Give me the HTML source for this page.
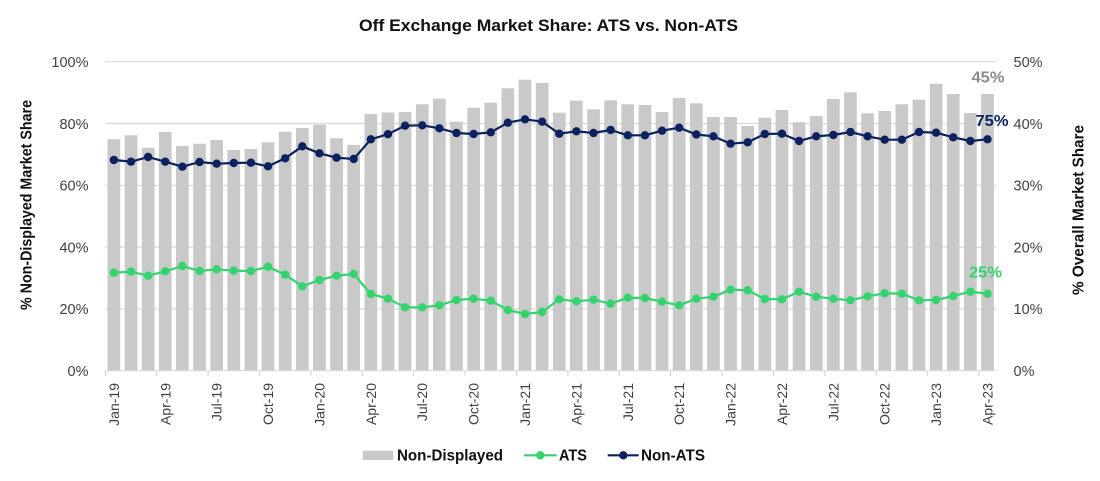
<!DOCTYPE html>
<html>
<head>
<meta charset="utf-8">
<style>
html,body{margin:0;padding:0;background:#fff;}
svg{display:block;}
text{font-family:"Liberation Sans",sans-serif;}
</style>
</head>
<body>
<svg width="1100" height="481" viewBox="0 0 1100 481" xmlns="http://www.w3.org/2000/svg">
<rect width="1100" height="481" fill="#fff"/>
<!-- title -->
<text x="359" y="31" font-size="17" font-weight="bold" fill="#111" textLength="379" lengthAdjust="spacingAndGlyphs">Off Exchange Market Share: ATS vs. Non-ATS</text>

<!-- gridlines -->
<g stroke="#d9d9d9" stroke-width="1.2">
<line x1="105.3" y1="61.7" x2="996.5" y2="61.7"/>
<line x1="105.3" y1="123.5" x2="996.5" y2="123.5"/>
<line x1="105.3" y1="185.3" x2="996.5" y2="185.3"/>
<line x1="105.3" y1="247.1" x2="996.5" y2="247.1"/>
<line x1="105.3" y1="308.9" x2="996.5" y2="308.9"/>
</g>

<!-- bars -->
<g fill="#c9c9c9">
<rect x="107.5" y="139.3" width="12.7" height="231.4"/>
<rect x="124.7" y="135.3" width="12.7" height="235.4"/>
<rect x="141.8" y="147.7" width="12.7" height="223.0"/>
<rect x="158.9" y="132.0" width="12.7" height="238.7"/>
<rect x="176.0" y="146.0" width="12.7" height="224.7"/>
<rect x="193.2" y="143.7" width="12.7" height="227.0"/>
<rect x="210.3" y="140.0" width="12.7" height="230.7"/>
<rect x="227.4" y="150.0" width="12.7" height="220.7"/>
<rect x="244.6" y="149.0" width="12.7" height="221.7"/>
<rect x="261.7" y="142.3" width="12.7" height="228.4"/>
<rect x="278.8" y="131.7" width="12.7" height="239.0"/>
<rect x="296.0" y="128.0" width="12.7" height="242.7"/>
<rect x="313.1" y="124.7" width="12.7" height="246.0"/>
<rect x="330.2" y="138.3" width="12.7" height="232.4"/>
<rect x="347.3" y="145.0" width="12.7" height="225.7"/>
<rect x="364.5" y="114.0" width="12.7" height="256.7"/>
<rect x="381.6" y="112.5" width="12.7" height="258.2"/>
<rect x="398.7" y="112.0" width="12.7" height="258.7"/>
<rect x="415.9" y="104.3" width="12.7" height="266.4"/>
<rect x="433.0" y="98.7" width="12.7" height="272.0"/>
<rect x="450.1" y="121.7" width="12.7" height="249.0"/>
<rect x="467.3" y="107.7" width="12.7" height="263.0"/>
<rect x="484.4" y="102.7" width="12.7" height="268.0"/>
<rect x="501.5" y="88.3" width="12.7" height="282.4"/>
<rect x="518.6" y="79.7" width="12.7" height="291.0"/>
<rect x="535.8" y="83.0" width="12.7" height="287.7"/>
<rect x="552.9" y="112.7" width="12.7" height="258.0"/>
<rect x="570.0" y="100.7" width="12.7" height="270.0"/>
<rect x="587.2" y="109.3" width="12.7" height="261.4"/>
<rect x="604.3" y="100.3" width="12.7" height="270.4"/>
<rect x="621.4" y="104.3" width="12.7" height="266.4"/>
<rect x="638.6" y="105.0" width="12.7" height="265.7"/>
<rect x="655.7" y="112.0" width="12.7" height="258.7"/>
<rect x="672.8" y="98.0" width="12.7" height="272.7"/>
<rect x="689.9" y="103.3" width="12.7" height="267.4"/>
<rect x="707.1" y="117.0" width="12.7" height="253.7"/>
<rect x="724.2" y="117.0" width="12.7" height="253.7"/>
<rect x="741.3" y="126.0" width="12.7" height="244.7"/>
<rect x="758.5" y="117.7" width="12.7" height="253.0"/>
<rect x="775.6" y="110.0" width="12.7" height="260.7"/>
<rect x="792.7" y="122.3" width="12.7" height="248.4"/>
<rect x="809.9" y="116.0" width="12.7" height="254.7"/>
<rect x="827.0" y="99.0" width="12.7" height="271.7"/>
<rect x="844.1" y="92.3" width="12.7" height="278.4"/>
<rect x="861.2" y="113.3" width="12.7" height="257.4"/>
<rect x="878.4" y="111.0" width="12.7" height="259.7"/>
<rect x="895.5" y="104.3" width="12.7" height="266.4"/>
<rect x="912.6" y="99.7" width="12.7" height="271.0"/>
<rect x="929.8" y="83.7" width="12.7" height="287.0"/>
<rect x="946.9" y="94.0" width="12.7" height="276.7"/>
<rect x="964.0" y="113.0" width="12.7" height="257.7"/>
<rect x="981.2" y="94.0" width="12.7" height="276.7"/>
</g>

<!-- x axis line and ticks -->
<g stroke="#d9d9d9" stroke-width="1.2">
<line x1="105.3" y1="370.7" x2="996.5" y2="370.7"/>
<line x1="105.3" y1="370.7" x2="105.3" y2="376"/>
<line x1="156.7" y1="370.7" x2="156.7" y2="376"/>
<line x1="208.1" y1="370.7" x2="208.1" y2="376"/>
<line x1="259.5" y1="370.7" x2="259.5" y2="376"/>
<line x1="310.9" y1="370.7" x2="310.9" y2="376"/>
<line x1="362.3" y1="370.7" x2="362.3" y2="376"/>
<line x1="413.6" y1="370.7" x2="413.6" y2="376"/>
<line x1="465.0" y1="370.7" x2="465.0" y2="376"/>
<line x1="516.4" y1="370.7" x2="516.4" y2="376"/>
<line x1="567.8" y1="370.7" x2="567.8" y2="376"/>
<line x1="619.2" y1="370.7" x2="619.2" y2="376"/>
<line x1="670.6" y1="370.7" x2="670.6" y2="376"/>
<line x1="722.0" y1="370.7" x2="722.0" y2="376"/>
<line x1="773.4" y1="370.7" x2="773.4" y2="376"/>
<line x1="824.8" y1="370.7" x2="824.8" y2="376"/>
<line x1="876.2" y1="370.7" x2="876.2" y2="376"/>
<line x1="927.5" y1="370.7" x2="927.5" y2="376"/>
<line x1="978.9" y1="370.7" x2="978.9" y2="376"/>
</g>

<!-- Non-ATS line -->
<polyline fill="none" stroke="#0c215e" stroke-width="2.2" stroke-linejoin="round" points="113.87,160 131.0,161.7 148.13,157 165.26,161.7 182.39,166.7 199.52,162 216.65,163.7 233.78,163 250.91,162.7 268.04,166.3 285.17,158.3 302.3,146.3 319.43,153.3 336.56,157.7 353.69,159 370.82,139.3 387.95,134.2 405.08,125.7 422.21,125.3 439.34,128.3 456.47,133 473.6,134 490.73,132.3 507.86,122.7 524.99,119.3 542.12,121.7 559.25,133.7 576.38,131.3 593.51,133 610.64,130 627.77,135.3 644.9,135.3 662.03,130.7 679.16,127.7 696.29,134.5 713.42,136.3 730.55,143.7 747.68,142.3 764.81,134 781.94,133.7 799.07,141 816.2,136.3 833.33,135 850.46,132 867.59,136.3 884.72,139.7 901.85,139.7 918.98,132 936.11,132.7 953.24,137.3 970.37,141 987.5,139.3"/>
<g fill="#0c215e">
<circle cx="113.87" cy="160" r="4.2"/><circle cx="131.0" cy="161.7" r="4.2"/><circle cx="148.13" cy="157" r="4.2"/><circle cx="165.26" cy="161.7" r="4.2"/><circle cx="182.39" cy="166.7" r="4.2"/><circle cx="199.52" cy="162" r="4.2"/><circle cx="216.65" cy="163.7" r="4.2"/><circle cx="233.78" cy="163" r="4.2"/><circle cx="250.91" cy="162.7" r="4.2"/><circle cx="268.04" cy="166.3" r="4.2"/><circle cx="285.17" cy="158.3" r="4.2"/><circle cx="302.3" cy="146.3" r="4.2"/><circle cx="319.43" cy="153.3" r="4.2"/><circle cx="336.56" cy="157.7" r="4.2"/><circle cx="353.69" cy="159" r="4.2"/><circle cx="370.82" cy="139.3" r="4.2"/><circle cx="387.95" cy="134.2" r="4.2"/><circle cx="405.08" cy="125.7" r="4.2"/><circle cx="422.21" cy="125.3" r="4.2"/><circle cx="439.34" cy="128.3" r="4.2"/><circle cx="456.47" cy="133" r="4.2"/><circle cx="473.6" cy="134" r="4.2"/><circle cx="490.73" cy="132.3" r="4.2"/><circle cx="507.86" cy="122.7" r="4.2"/><circle cx="524.99" cy="119.3" r="4.2"/><circle cx="542.12" cy="121.7" r="4.2"/><circle cx="559.25" cy="133.7" r="4.2"/><circle cx="576.38" cy="131.3" r="4.2"/><circle cx="593.51" cy="133" r="4.2"/><circle cx="610.64" cy="130" r="4.2"/><circle cx="627.77" cy="135.3" r="4.2"/><circle cx="644.9" cy="135.3" r="4.2"/><circle cx="662.03" cy="130.7" r="4.2"/><circle cx="679.16" cy="127.7" r="4.2"/><circle cx="696.29" cy="134.5" r="4.2"/><circle cx="713.42" cy="136.3" r="4.2"/><circle cx="730.55" cy="143.7" r="4.2"/><circle cx="747.68" cy="142.3" r="4.2"/><circle cx="764.81" cy="134" r="4.2"/><circle cx="781.94" cy="133.7" r="4.2"/><circle cx="799.07" cy="141" r="4.2"/><circle cx="816.2" cy="136.3" r="4.2"/><circle cx="833.33" cy="135" r="4.2"/><circle cx="850.46" cy="132" r="4.2"/><circle cx="867.59" cy="136.3" r="4.2"/><circle cx="884.72" cy="139.7" r="4.2"/><circle cx="901.85" cy="139.7" r="4.2"/><circle cx="918.98" cy="132" r="4.2"/><circle cx="936.11" cy="132.7" r="4.2"/><circle cx="953.24" cy="137.3" r="4.2"/><circle cx="970.37" cy="141" r="4.2"/><circle cx="987.5" cy="139.3" r="4.2"/>
</g>

<!-- ATS line -->
<polyline fill="none" stroke="#33d46f" stroke-width="2.2" stroke-linejoin="round" points="113.87,272.7 131.0,271.7 148.13,275.7 165.26,271.3 182.39,266 199.52,271 216.65,269.3 233.78,270.7 250.91,271 268.04,266.7 285.17,274.7 302.3,286.3 319.43,280 336.56,275.7 353.69,274 370.82,294 387.95,298.7 405.08,307.3 422.21,307.3 439.34,305.3 456.47,300 473.6,298.7 490.73,300.7 507.86,310 524.99,314 542.12,312 559.25,299.3 576.38,301.3 593.51,299.7 610.64,303.7 627.77,297.7 644.9,298 662.03,301.7 679.16,305.3 696.29,298.7 713.42,296.7 730.55,289.7 747.68,290.3 764.81,299 781.94,299.3 799.07,291.7 816.2,296.7 833.33,298.7 850.46,300.3 867.59,296.3 884.72,293.3 901.85,293.7 918.98,300.3 936.11,300 953.24,296 970.37,291.7 987.5,293.7"/>
<g fill="#33d46f">
<circle cx="113.87" cy="272.7" r="4.2"/><circle cx="131.0" cy="271.7" r="4.2"/><circle cx="148.13" cy="275.7" r="4.2"/><circle cx="165.26" cy="271.3" r="4.2"/><circle cx="182.39" cy="266" r="4.2"/><circle cx="199.52" cy="271" r="4.2"/><circle cx="216.65" cy="269.3" r="4.2"/><circle cx="233.78" cy="270.7" r="4.2"/><circle cx="250.91" cy="271" r="4.2"/><circle cx="268.04" cy="266.7" r="4.2"/><circle cx="285.17" cy="274.7" r="4.2"/><circle cx="302.3" cy="286.3" r="4.2"/><circle cx="319.43" cy="280" r="4.2"/><circle cx="336.56" cy="275.7" r="4.2"/><circle cx="353.69" cy="274" r="4.2"/><circle cx="370.82" cy="294" r="4.2"/><circle cx="387.95" cy="298.7" r="4.2"/><circle cx="405.08" cy="307.3" r="4.2"/><circle cx="422.21" cy="307.3" r="4.2"/><circle cx="439.34" cy="305.3" r="4.2"/><circle cx="456.47" cy="300" r="4.2"/><circle cx="473.6" cy="298.7" r="4.2"/><circle cx="490.73" cy="300.7" r="4.2"/><circle cx="507.86" cy="310" r="4.2"/><circle cx="524.99" cy="314" r="4.2"/><circle cx="542.12" cy="312" r="4.2"/><circle cx="559.25" cy="299.3" r="4.2"/><circle cx="576.38" cy="301.3" r="4.2"/><circle cx="593.51" cy="299.7" r="4.2"/><circle cx="610.64" cy="303.7" r="4.2"/><circle cx="627.77" cy="297.7" r="4.2"/><circle cx="644.9" cy="298" r="4.2"/><circle cx="662.03" cy="301.7" r="4.2"/><circle cx="679.16" cy="305.3" r="4.2"/><circle cx="696.29" cy="298.7" r="4.2"/><circle cx="713.42" cy="296.7" r="4.2"/><circle cx="730.55" cy="289.7" r="4.2"/><circle cx="747.68" cy="290.3" r="4.2"/><circle cx="764.81" cy="299" r="4.2"/><circle cx="781.94" cy="299.3" r="4.2"/><circle cx="799.07" cy="291.7" r="4.2"/><circle cx="816.2" cy="296.7" r="4.2"/><circle cx="833.33" cy="298.7" r="4.2"/><circle cx="850.46" cy="300.3" r="4.2"/><circle cx="867.59" cy="296.3" r="4.2"/><circle cx="884.72" cy="293.3" r="4.2"/><circle cx="901.85" cy="293.7" r="4.2"/><circle cx="918.98" cy="300.3" r="4.2"/><circle cx="936.11" cy="300" r="4.2"/><circle cx="953.24" cy="296" r="4.2"/><circle cx="970.37" cy="291.7" r="4.2"/><circle cx="987.5" cy="293.7" r="4.2"/>
</g>

<!-- data labels -->
<text x="971.5" y="82.5" font-size="16" font-weight="bold" fill="#8c8c8c" textLength="33" lengthAdjust="spacingAndGlyphs">45%</text>
<text x="975.5" y="125.8" font-size="16" font-weight="bold" fill="#0c215e" textLength="33" lengthAdjust="spacingAndGlyphs">75%</text>
<text x="969" y="277.5" font-size="16" font-weight="bold" fill="#33d46f" textLength="33" lengthAdjust="spacingAndGlyphs">25%</text>

<!-- left axis labels -->
<g font-size="14.5" fill="#404040" text-anchor="end">
<text x="88.5" y="67">100%</text>
<text x="88.5" y="128.8">80%</text>
<text x="88.5" y="190.6">60%</text>
<text x="88.5" y="252.4">40%</text>
<text x="88.5" y="314.2">20%</text>
<text x="88.5" y="376">0%</text>
</g>
<!-- right axis labels -->
<g font-size="14.5" fill="#404040">
<text x="1013.5" y="67">50%</text>
<text x="1013.5" y="128.8">40%</text>
<text x="1013.5" y="190.6">30%</text>
<text x="1013.5" y="252.4">20%</text>
<text x="1013.5" y="314.2">10%</text>
<text x="1013.5" y="376">0%</text>
</g>

<!-- axis titles -->
<text transform="translate(31.5,205) rotate(-90)" text-anchor="middle" font-size="15.5" font-weight="bold" fill="#111" textLength="210" lengthAdjust="spacingAndGlyphs">% Non-Displayed Market Share</text>
<text transform="translate(1083.5,210) rotate(-90)" text-anchor="middle" font-size="15.5" font-weight="bold" fill="#111" textLength="170" lengthAdjust="spacingAndGlyphs">% Overall Market Share</text>

<!-- x labels -->
<g font-size="14" fill="#404040" text-anchor="end">
<text transform="translate(118.9,383) rotate(-90)">Jan-19</text>
<text transform="translate(170.3,383) rotate(-90)">Apr-19</text>
<text transform="translate(221.7,383) rotate(-90)">Jul-19</text>
<text transform="translate(273.0,383) rotate(-90)">Oct-19</text>
<text transform="translate(324.4,383) rotate(-90)">Jan-20</text>
<text transform="translate(375.8,383) rotate(-90)">Apr-20</text>
<text transform="translate(427.2,383) rotate(-90)">Jul-20</text>
<text transform="translate(478.6,383) rotate(-90)">Oct-20</text>
<text transform="translate(530.0,383) rotate(-90)">Jan-21</text>
<text transform="translate(581.4,383) rotate(-90)">Apr-21</text>
<text transform="translate(632.8,383) rotate(-90)">Jul-21</text>
<text transform="translate(684.2,383) rotate(-90)">Oct-21</text>
<text transform="translate(735.5,383) rotate(-90)">Jan-22</text>
<text transform="translate(786.9,383) rotate(-90)">Apr-22</text>
<text transform="translate(838.3,383) rotate(-90)">Jul-22</text>
<text transform="translate(889.7,383) rotate(-90)">Oct-22</text>
<text transform="translate(941.1,383) rotate(-90)">Jan-23</text>
<text transform="translate(992.5,383) rotate(-90)">Apr-23</text>
</g>

<!-- legend -->
<rect x="362.7" y="450.7" width="30.6" height="9.3" fill="#c9c9c9"/>
<text x="397" y="460.6" font-size="16" font-weight="bold" fill="#111" textLength="106" lengthAdjust="spacingAndGlyphs">Non-Displayed</text>
<line x1="524" y1="455.3" x2="556.7" y2="455.3" stroke="#33d46f" stroke-width="2.2"/>
<circle cx="540.3" cy="455.3" r="4.2" fill="#33d46f"/>
<text x="559" y="460.6" font-size="16" font-weight="bold" fill="#111" textLength="28" lengthAdjust="spacingAndGlyphs">ATS</text>
<line x1="607.7" y1="455.3" x2="638.7" y2="455.3" stroke="#0c215e" stroke-width="2.2"/>
<circle cx="623.3" cy="455.3" r="4.2" fill="#0c215e"/>
<text x="641" y="460.6" font-size="16" font-weight="bold" fill="#111" textLength="64" lengthAdjust="spacingAndGlyphs">Non-ATS</text>
</svg>
</body>
</html>
